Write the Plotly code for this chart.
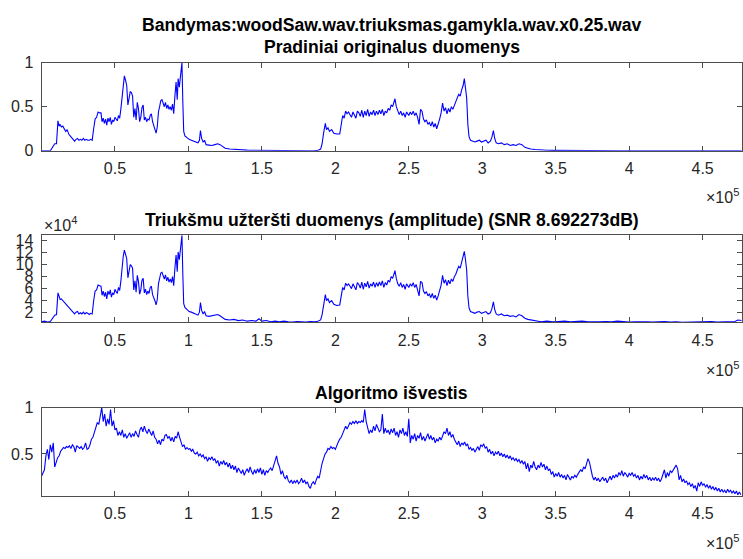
import plotly.graph_objects as go

# Sample positions (units of 1e5 samples) shared by the clean and noisy envelopes
t_in = [
    0.000, 0.020, 0.040, 0.060, 0.090, 0.102, 0.112, 0.120, 0.127, 0.135, 0.145, 0.155, 0.165, 0.175, 0.185, 0.195,
    0.205, 0.215, 0.225, 0.235, 0.245, 0.255, 0.265, 0.275, 0.285, 0.295, 0.305, 0.315, 0.325, 0.335, 0.345,
    0.355, 0.365, 0.375, 0.385, 0.395, 0.405, 0.412, 0.420, 0.428, 0.436, 0.444, 0.452, 0.460, 0.468, 0.476, 0.484,
    0.492, 0.500, 0.508, 0.516, 0.524, 0.532,
    0.540, 0.548, 0.556, 0.564, 0.572, 0.580, 0.588, 0.596, 0.604, 0.612, 0.620, 0.628, 0.636, 0.644, 0.652, 0.660,
    0.668, 0.676, 0.684, 0.692, 0.700,
    0.708, 0.716, 0.724, 0.732, 0.740, 0.748, 0.756, 0.764, 0.772, 0.780, 0.788, 0.796, 0.804, 0.812, 0.820, 0.828,
    0.836, 0.844, 0.852, 0.860, 0.868, 0.876, 0.884, 0.892, 0.900,
    0.908, 0.916, 0.924, 0.930, 0.938, 0.944, 0.950, 0.956, 0.962, 0.968, 0.976, 0.990, 1.005, 1.020, 1.035, 1.050,
    1.065, 1.075, 1.082, 1.090, 1.100, 1.110, 1.120, 1.140, 1.160, 1.180, 1.200, 1.215, 1.230,
    1.250, 1.280, 1.310, 1.340, 1.370, 1.400, 1.430, 1.460, 1.480, 1.500, 1.530, 1.560, 1.590, 1.620, 1.650, 1.680,
    1.710, 1.740, 1.770, 1.800, 1.830, 1.860, 1.880,
    1.900, 1.910, 1.920, 1.932, 1.940, 1.950, 1.960, 1.975, 1.990, 2.010, 2.030,
    2.040, 2.050, 2.060, 2.070, 2.080, 2.090, 2.100, 2.110, 2.120, 2.130, 2.140, 2.150, 2.160, 2.170, 2.180, 2.190,
    2.200, 2.210, 2.220, 2.230, 2.240, 2.250, 2.260, 2.270, 2.280, 2.290, 2.300, 2.310, 2.320, 2.330, 2.340, 2.350,
    2.360, 2.370, 2.380, 2.390, 2.400, 2.406,
    2.415, 2.425, 2.435, 2.445, 2.455, 2.465, 2.475, 2.485, 2.495,
    2.500, 2.510, 2.520, 2.530, 2.540, 2.550, 2.560, 2.570, 2.580, 2.590, 2.600, 2.610, 2.620, 2.630, 2.640, 2.650,
    2.660, 2.670, 2.680, 2.690, 2.700, 2.710, 2.720, 2.730, 2.740, 2.750, 2.760, 2.770, 2.780, 2.790, 2.800, 2.810,
    2.820, 2.830, 2.840, 2.850, 2.860, 2.870,
    2.878, 2.886, 2.894, 2.902, 2.910, 2.920, 2.935, 2.950, 2.965, 2.980, 2.995, 3.010, 3.025, 3.040, 3.055, 3.065,
    3.076, 3.085, 3.095, 3.110, 3.130, 3.150, 3.170, 3.190, 3.210, 3.230, 3.250, 3.270, 3.290, 3.310,
    3.330, 3.360, 3.400, 3.440, 3.480, 3.520, 3.560, 3.600, 3.640, 3.680, 3.720, 3.760, 3.800, 3.840, 3.880, 3.920,
    3.960, 4.000, 4.040, 4.080, 4.120, 4.160, 4.200, 4.240, 4.280, 4.320, 4.360, 4.400, 4.440, 4.480, 4.520, 4.560,
    4.600, 4.640, 4.680, 4.720, 4.740, 4.766,
]

# Original (clean) normalised envelope
original = [
    0, 0, 0, 0, 0.08, 0.08, 0.34, 0.28, 0.30, 0.27, 0.28, 0.25, 0.22, 0.24, 0.19, 0.17,
    0.15, 0.13, 0.11, 0.13, 0.14, 0.12, 0.13, 0.12, 0.14, 0.12, 0.13, 0.12, 0.12, 0.13, 0.12,
    0.25, 0.36, 0.38, 0.44, 0.43, 0.43, 0.33, 0.37, 0.31, 0.36, 0.29, 0.37, 0.33, 0.38, 0.30, 0.35,
    0.33, 0.38, 0.36, 0.34, 0.40, 0.37,
    0.47, 0.63, 0.76, 0.85, 0.80, 0.74, 0.52, 0.62, 0.67, 0.66, 0.62, 0.38, 0.48, 0.35, 0.55, 0.48,
    0.33, 0.38, 0.49, 0.52, 0.35,
    0.38, 0.33, 0.36, 0.35, 0.40, 0.42, 0.33, 0.29, 0.26, 0.20, 0.27, 0.44, 0.50, 0.57, 0.58, 0.53,
    0.50, 0.55, 0.48, 0.52, 0.47, 0.50, 0.46, 0.53, 0.42,
    0.62, 0.78, 0.58, 0.82, 0.72, 0.84, 0.88, 1.00, 0.55, 0.22, 0.17, 0.15, 0.13, 0.12, 0.11, 0.10,
    0.09, 0.12, 0.23, 0.14, 0.10, 0.12, 0.07, 0.065, 0.06, 0.07, 0.08, 0.07, 0.05,
    0.03, 0.02, 0.015, 0.012, 0.01, 0.008, 0.007, 0.006, 0.012, 0.005, 0.004, 0.004, 0.003, 0.003, 0.003, 0.002,
    0.002, 0.002, 0.001, 0.001, 0.001, 0.002, 0.004,
    0.02, 0.08, 0.20, 0.31, 0.24, 0.26, 0.22, 0.24, 0.20, 0.19, 0.19,
    0.30, 0.40, 0.37, 0.45, 0.42, 0.44, 0.41, 0.38, 0.44, 0.40, 0.37, 0.45, 0.43, 0.39, 0.46, 0.38,
    0.45, 0.40, 0.47, 0.39, 0.44, 0.41, 0.46, 0.40, 0.45, 0.41, 0.46, 0.42, 0.47, 0.40, 0.45, 0.43,
    0.48, 0.46, 0.52, 0.50, 0.55, 0.59,
    0.50, 0.44, 0.41, 0.45, 0.40, 0.43, 0.38, 0.44, 0.41,
    0.40, 0.44, 0.41, 0.45, 0.40, 0.43, 0.38, 0.30, 0.47, 0.45, 0.36, 0.33, 0.35, 0.30, 0.32, 0.28,
    0.33, 0.27, 0.31, 0.25, 0.30, 0.36, 0.43, 0.54, 0.45, 0.49, 0.42, 0.48, 0.44, 0.50, 0.47, 0.52,
    0.55, 0.60, 0.64, 0.62, 0.69, 0.74,
    0.82, 0.72, 0.60, 0.30, 0.16, 0.12, 0.11, 0.10, 0.11, 0.12, 0.10, 0.11, 0.12, 0.09, 0.11, 0.15,
    0.23, 0.14, 0.09, 0.08, 0.09, 0.07, 0.08, 0.06, 0.07, 0.06, 0.08, 0.07, 0.04, 0.03,
    0.02, 0.015, 0.008, 0.006, 0.005, 0.004, 0.003, 0.003, 0.002, 0.002, 0.002, 0.002, 0.001, 0.001, 0.001, 0.001,
    0.001, 0.001, 0.001, 0.0005, 0.0005, 0.0005, 0.0005, 0.0005, 0.0005, 0.0005, 0.0005, 0.0005, 0.0005, 0.0005,
    0.0005, 0.0005, 0.0005, 0.0005, 0.0005, 0.0005, 0.0005, 0.0005,
]

# Noise-contaminated amplitude (units of 1e4)
noisy = [
    0.5, 0.6, 0.45, 0.55, 1.6, 1.7, 5.3, 4.5, 4.2, 4.3, 4.0, 3.8, 3.5, 3.3, 2.9, 2.6,
    2.4, 2.0, 1.8, 2.1, 2.2, 1.8, 2.0, 1.8, 2.1, 1.8, 2.0, 1.9, 1.7, 1.9, 1.8,
    4.0, 5.6, 5.8, 6.6, 6.5, 6.4, 4.9, 5.6, 4.7, 5.4, 4.3, 5.6, 5.0, 5.8, 4.6, 5.3,
    5.0, 5.9, 5.5, 5.2, 6.2, 5.7,
    7.2, 9.5, 11.3, 12.4, 11.8, 11.0, 7.8, 9.3, 10.0, 9.8, 9.4, 5.8, 7.3, 5.4, 8.2, 7.2,
    5.1, 5.8, 7.4, 7.7, 5.3,
    5.9, 5.0, 5.6, 5.2, 6.2, 6.4, 5.0, 4.6, 4.0, 3.3, 4.2, 6.8, 7.6, 8.6, 8.7, 8.0,
    7.6, 8.3, 7.3, 7.9, 7.1, 7.6, 7.0, 8.0, 6.5,
    9.4, 11.6, 8.8, 12.1, 10.8, 12.4, 13.0, 14.85, 8.3, 3.5, 2.9, 2.6, 2.2, 2.1, 1.9, 1.8,
    1.6, 2.1, 3.7, 2.4, 1.8, 2.2, 1.5, 1.4, 1.5, 1.6, 1.7, 1.5, 1.2,
    0.9, 0.8, 0.9, 0.7, 0.8, 0.6, 0.7, 0.6, 1.0, 0.6, 0.7, 0.5, 0.6, 0.5, 0.6, 0.5,
    0.45, 0.55, 0.5, 0.45, 0.55, 0.5, 0.6,
    0.8, 1.7, 3.4, 5.0, 4.0, 4.3, 3.7, 4.0, 3.4, 3.2, 3.3,
    4.8, 6.2, 5.8, 6.9, 6.5, 6.8, 6.4, 6.0, 6.8, 6.2, 5.8, 7.0, 6.7, 6.1, 7.1, 5.9,
    6.9, 6.3, 7.2, 6.1, 6.8, 6.4, 7.1, 6.2, 7.0, 6.4, 7.1, 6.5, 7.3, 6.2, 7.0, 6.6,
    7.4, 7.1, 8.0, 7.7, 8.4, 9.0,
    7.7, 6.8, 6.4, 7.0, 6.2, 6.7, 5.9, 6.8, 6.4,
    6.2, 6.8, 6.4, 7.0, 6.2, 6.7, 5.9, 4.8, 7.2, 7.0, 5.6, 5.2, 5.5, 4.8, 5.1, 4.5,
    5.2, 4.4, 4.9, 4.1, 4.8, 5.6, 6.6, 8.2, 6.9, 7.5, 6.5, 7.4, 6.8, 7.6, 7.2, 8.0,
    8.4, 9.1, 9.7, 9.4, 10.4, 11.1,
    12.2, 10.8, 9.1, 4.8, 2.8, 2.2, 2.0, 1.9, 2.1, 2.2, 1.9, 2.0, 2.2, 1.8, 2.0, 2.6,
    3.8, 2.5, 1.8, 1.6, 1.8, 1.5, 1.6, 1.4, 1.5, 1.3, 1.7, 1.5, 1.1, 0.9,
    0.8, 0.6, 0.5, 0.6, 0.5, 0.55, 0.6, 0.5, 0.55, 0.6, 0.5, 0.45, 0.5, 0.55, 0.5, 0.6,
    0.5, 0.45, 0.5, 0.55, 0.5, 0.45, 0.5, 0.55, 0.45, 0.5, 0.4, 0.45, 0.5, 0.45, 0.5, 0.55,
    0.45, 0.5, 0.6, 0.55, 0.8, 0.7,
]

# Algorithm output on a regular grid of 1000-sample steps (units of 1e5)
t_out = [i / 100 for i in range(477)]
algorithm = [
    0.26, 0.30, 0.33, 0.48, 0.55, 0.44, 0.60, 0.52, 0.62, 0.36,
    0.42, 0.46, 0.48, 0.53, 0.55, 0.57, 0.56, 0.58, 0.57, 0.59,
    0.56, 0.60, 0.58, 0.52, 0.59, 0.57, 0.56, 0.58, 0.55, 0.57,
    0.62, 0.55, 0.56, 0.60, 0.66, 0.68, 0.73, 0.80, 0.84, 0.82,
    0.91, 1.00, 0.85, 0.93, 0.80, 0.88, 0.82, 0.98, 0.80, 0.86,
    0.76, 0.78, 0.70, 0.74, 0.70, 0.76, 0.68, 0.72, 0.67, 0.71,
    0.73, 0.68, 0.72, 0.69, 0.75, 0.71, 0.68, 0.76, 0.79, 0.74,
    0.80, 0.75, 0.72, 0.77, 0.73, 0.70, 0.75, 0.68, 0.66, 0.61,
    0.65, 0.60, 0.66, 0.64, 0.70, 0.71, 0.67, 0.69, 0.64, 0.68,
    0.63, 0.69, 0.67, 0.74, 0.68, 0.62, 0.58, 0.60, 0.55, 0.57,
    0.55, 0.56, 0.53, 0.55, 0.51, 0.50, 0.52, 0.48, 0.50, 0.47,
    0.49, 0.45, 0.47, 0.42, 0.46, 0.44, 0.47, 0.43, 0.45, 0.40,
    0.43, 0.37, 0.42, 0.39, 0.43, 0.38, 0.41, 0.36, 0.40, 0.34,
    0.38, 0.33, 0.37, 0.30, 0.35, 0.32, 0.29, 0.33, 0.27, 0.31,
    0.34, 0.30, 0.36, 0.31, 0.28, 0.33, 0.29, 0.34, 0.30, 0.35,
    0.28, 0.33, 0.27, 0.32, 0.30, 0.33, 0.35, 0.32, 0.38, 0.43,
    0.48, 0.40, 0.36, 0.28, 0.32, 0.26, 0.23, 0.27, 0.21, 0.19,
    0.22, 0.18, 0.21, 0.19, 0.22, 0.18, 0.20, 0.24, 0.19, 0.22,
    0.18, 0.20, 0.15, 0.13, 0.18, 0.20, 0.17, 0.22, 0.26, 0.24,
    0.33, 0.40, 0.45, 0.50, 0.52, 0.56, 0.55, 0.58, 0.56, 0.57,
    0.55, 0.60, 0.63, 0.66, 0.68, 0.72, 0.76, 0.80, 0.77, 0.80,
    0.84, 0.82, 0.85, 0.83, 0.86, 0.83, 0.85, 0.84, 0.86, 0.84,
    0.98, 0.85, 0.79, 0.72, 0.76, 0.73, 0.80, 0.75, 0.82, 0.78,
    0.74, 0.76, 0.93, 0.72, 0.78, 0.73, 0.76, 0.71, 0.77, 0.73,
    0.78, 0.70, 0.74, 0.68, 0.76, 0.72, 0.78, 0.70, 0.74, 0.69,
    0.88, 0.62, 0.70, 0.66, 0.72, 0.64, 0.70, 0.67, 0.73, 0.65,
    0.69, 0.64, 0.68, 0.72, 0.66, 0.70, 0.65, 0.68, 0.62, 0.66,
    0.64, 0.68, 0.65, 0.70, 0.74, 0.72, 0.78, 0.70, 0.74, 0.68,
    0.71, 0.66, 0.63, 0.60, 0.64, 0.58, 0.62, 0.60, 0.63, 0.59,
    0.61, 0.55, 0.57, 0.54, 0.56, 0.52, 0.55, 0.58, 0.54, 0.60,
    0.58, 0.61, 0.56, 0.58, 0.52, 0.55, 0.50, 0.53, 0.48, 0.52,
    0.50, 0.53, 0.48, 0.51, 0.47, 0.50, 0.46, 0.49, 0.45, 0.48,
    0.44, 0.46, 0.43, 0.45, 0.42, 0.44, 0.40, 0.43, 0.39, 0.42,
    0.34, 0.40, 0.31, 0.38, 0.35, 0.42, 0.36, 0.33, 0.38, 0.35,
    0.41, 0.36, 0.39, 0.33, 0.37, 0.32, 0.34, 0.28, 0.31, 0.25,
    0.29, 0.26, 0.30, 0.25, 0.28, 0.24, 0.27, 0.22, 0.28, 0.25,
    0.22, 0.26, 0.24, 0.27, 0.25, 0.28, 0.30, 0.33, 0.31, 0.36,
    0.34, 0.40, 0.45, 0.41, 0.32, 0.26, 0.22, 0.25, 0.21, 0.24,
    0.20, 0.23, 0.25, 0.21, 0.24, 0.19, 0.23, 0.26, 0.22, 0.27,
    0.24, 0.28, 0.25, 0.30, 0.27, 0.32, 0.26, 0.30, 0.28, 0.25,
    0.29, 0.27, 0.30, 0.26, 0.28, 0.24, 0.27, 0.22, 0.26, 0.23,
    0.28, 0.24, 0.27, 0.22, 0.25, 0.21, 0.24, 0.22, 0.25, 0.21,
    0.24, 0.20, 0.23, 0.28, 0.33, 0.24, 0.30, 0.26, 0.32, 0.30,
    0.33, 0.35, 0.38, 0.34, 0.22, 0.27, 0.20, 0.23, 0.19, 0.21,
    0.17, 0.19, 0.15, 0.18, 0.13, 0.16, 0.10, 0.19, 0.15, 0.20,
    0.16, 0.18, 0.14, 0.17, 0.13, 0.16, 0.12, 0.15, 0.11, 0.14,
    0.10, 0.13, 0.09, 0.12, 0.09, 0.11, 0.08, 0.12, 0.09, 0.11,
    0.08, 0.10, 0.07, 0.10, 0.06, 0.09, 0.06,
]

assert len(t_in) == len(original) == len(noisy)
assert len(t_out) == len(algorithm)

x_ticks = [0.5, 1, 1.5, 2, 2.5, 3, 3.5, 4, 4.5]
x_range = [0, 4.766]

title_main = "Bandymas:woodSaw.wav.triuksmas.gamykla.wav.x0.25.wav"
title_1 = "Pradiniai originalus duomenys"
title_2 = "Triukšmu užteršti duomenys (amplitude) (SNR 8.692273dB)"
title_3 = "Algoritmo išvestis"

FONT = "Liberation Sans, Arial, Helvetica, sans-serif"
INK = "#262626"
AXIS = "#4d4d4d"
BLUE = "#0000ff"

W, H = 743, 559
x_dom = [41.5 / W, 741.7 / W]
y_doms = [
    [1 - 147.3 / H, 1 - 56.3 / H],
    [1 - 324.3 / H, 1 - 234.5 / H],
    [1 - 502.8 / H, 1 - 412.2 / H],
]

fig = go.Figure()
line = dict(color=BLUE, width=1.1)
fig.add_trace(go.Scatter(x=t_in, y=original, mode="lines", line=line, xaxis="x", yaxis="y"))
fig.add_trace(go.Scatter(x=t_in, y=noisy, mode="lines", line=line, xaxis="x2", yaxis="y2"))
fig.add_trace(go.Scatter(x=t_out, y=algorithm, mode="lines", line=line, xaxis="x3", yaxis="y3"))

tick_font = dict(family=FONT, size=16, color=INK)


def x_axis(anchor):
    return dict(
        domain=x_dom, range=x_range, anchor=anchor, tickvals=x_ticks,
        ticks="inside", ticklen=5, tickcolor=AXIS, tickwidth=1,
        showline=True, linecolor=AXIS, linewidth=1, mirror="ticks",
        showgrid=False, zeroline=False, tickfont=tick_font, ticklabelstandoff=3,
    )


def y_axis(anchor, dom, rng, ticks, labels):
    return dict(
        domain=dom, range=rng, anchor=anchor, tickvals=ticks, ticktext=labels,
        ticks="inside", ticklen=5, tickcolor=AXIS, tickwidth=1,
        showline=True, linecolor=AXIS, linewidth=1, mirror="ticks",
        showgrid=False, zeroline=False, tickfont=tick_font, ticklabelstandoff=4,
    )


fig.update_layout(
    width=W, height=H,
    margin=dict(l=0, r=0, t=0, b=0),
    paper_bgcolor="white", plot_bgcolor="white",
    showlegend=False,
    xaxis=x_axis("y"), xaxis2=x_axis("y2"), xaxis3=x_axis("y3"),
    yaxis=y_axis("x", y_doms[0], [0, 1], [0, 0.5, 1], ["0", "0.5", "1"]),
    yaxis2=y_axis("x2", y_doms[1], [0.39, 14.85], [2, 4, 6, 8, 10, 12, 14],
                  ["2", "4", "6", "8", "10", "12", "14"]),
    yaxis3=y_axis("x3", y_doms[2], [0.052, 1], [0.5, 1], ["0.5", "1"]),
)

cx = (x_dom[0] + x_dom[1]) / 2
title_font = dict(family=FONT, size=17.6, color="black")
for text, ypx in [(title_main, 17.7), (title_1, 40.7), (title_2, 218.7), (title_3, 396.7)]:
    fig.add_annotation(text="<b>%s</b>" % text, x=cx, y=1 - ypx / H, xref="paper", yref="paper",
                       xanchor="center", yanchor="middle", showarrow=False, font=title_font)

exp_font = dict(family=FONT, size=16, color=INK)
for ypx in [193.5, 372.5, 550.5]:
    fig.add_annotation(text="×10<sup>5</sup>", x=741 / W, y=1 - ypx / H, xref="paper", yref="paper",
                       xanchor="right", yanchor="middle", showarrow=False, font=exp_font)
fig.add_annotation(text="×10<sup>4</sup>", x=42 / W, y=1 - 223 / H, xref="paper", yref="paper",
                   xanchor="left", yanchor="middle", showarrow=False, font=exp_font)

fig.write_html("out.html")
